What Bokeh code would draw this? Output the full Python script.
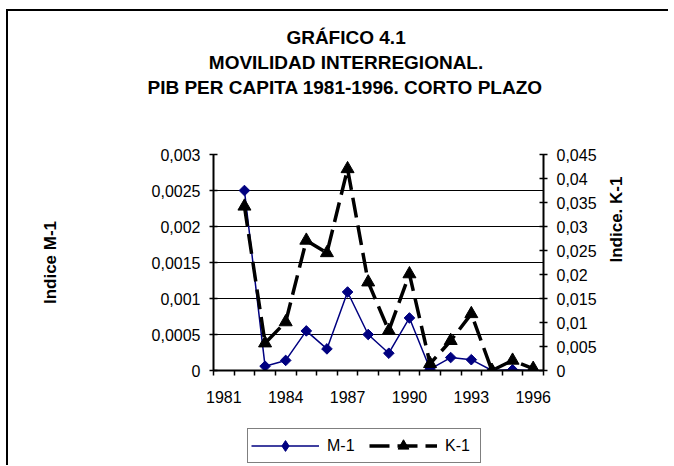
import math
from bokeh.plotting import figure
from bokeh.layouts import column
from bokeh.models import (Range1d, LinearAxis, FixedTicker, Title, Legend, LegendItem)
from bokeh.embed import file_html
from bokeh.resources import INLINE

# ---------------- data ----------------
years = [1982, 1983, 1984, 1985, 1986, 1987, 1988, 1989, 1990, 1991, 1992, 1993, 1994, 1995, 1996]
m1 = [0.0025, 0.00006, 0.00014, 0.00055, 0.0003, 0.00109, 0.0005, 0.00024, 0.00073,
      0.00002, 0.00018, 0.00015, 0.0, 0.00001, 0.0]
k1 = [0.0342, 0.0057, 0.0101, 0.0271, 0.0245, 0.042, 0.0184, 0.0083, 0.0201,
      0.0014, 0.0062, 0.0118, 0.0, 0.0021, 0.0004]

x_tick_years = [1981, 1984, 1987, 1990, 1993, 1996]
x_tick_labels = ["1981", "1984", "1987", "1990", "1993", "1996"]
category_edges = [1980.5, 1981.5, 1982.5, 1983.5, 1984.5, 1985.5, 1986.5, 1987.5, 1988.5,
                  1989.5, 1990.5, 1991.5, 1992.5, 1993.5, 1994.5, 1995.5, 1996.5]
left_ticks = [0, 0.0005, 0.001, 0.0015, 0.002, 0.0025, 0.003]
left_labels = ["0", "0,0005", "0,001", "0,0015", "0,002", "0,0025", "0,003"]
right_ticks = [0, 0.005, 0.01, 0.015, 0.02, 0.025, 0.03, 0.035, 0.04, 0.045]
right_labels = ["0", "0,005", "0,01", "0,015", "0,02", "0,025", "0,03", "0,035", "0,04", "0,045"]

title_lines = ["GRÁFICO 4.1", "MOVILIDAD INTERREGIONAL.", "PIB PER CAPITA 1981-1996. CORTO PLAZO"]
y_left_title = "Indice M-1"
y_right_title = "Indice. K-1"
series_names = ["M-1", "K-1"]

FONT = "Liberation Sans"
M_COLOR = "#000080"
K_COLOR = "black"
K_DASH = "20 8"

W, H = 660, 412
FL, FR, FT, FB = 205, 535, 143, 359  # frame edges on canvas

p = figure(width=W, height=H, output_backend="svg", toolbar_location=None,
           title_location=None,
           x_range=Range1d(1980.5, 1996.5), y_range=Range1d(0, 0.003),
           min_border_left=FL, min_border_right=W - FR,
           min_border_top=FT, min_border_bottom=H - FB,
           x_axis_location=None, y_axis_location=None)
p.outline_line_color = None
p.background_fill_color = "white"
p.border_fill_color = "white"
p.extra_y_ranges = {"k": Range1d(0, 0.045)}

# axes
xa = LinearAxis(ticker=FixedTicker(ticks=x_tick_years, minor_ticks=category_edges),
                major_label_overrides=dict(zip(x_tick_years, x_tick_labels)))
xa.axis_line_width = 2
xa.axis_line_color = "black"
xa.major_tick_line_color = None
xa.major_tick_in = 0
xa.major_tick_out = 0
xa.minor_tick_line_color = "black"
xa.minor_tick_line_width = 1.5
xa.minor_tick_in = 0
xa.minor_tick_out = 5
xa.major_label_standoff = 15
xa.major_label_text_font = FONT
xa.major_label_text_font_size = "16px"
xa.major_label_text_color = "black"
p.add_layout(xa, "below")

ya = LinearAxis(ticker=FixedTicker(ticks=left_ticks),
                major_label_overrides=dict(zip(left_ticks, left_labels)),
                axis_label=y_left_title, axis_label_standoff=89)
yb = LinearAxis(y_range_name="k", ticker=FixedTicker(ticks=right_ticks),
                major_label_overrides=dict(zip(right_ticks, right_labels)),
                axis_label=y_right_title, axis_label_standoff=17,
                axis_label_orientation=math.pi / 2)
for ax in (ya, yb):
    ax.axis_line_width = 2
    ax.axis_line_color = "black"
    ax.major_tick_line_color = "black"
    ax.major_tick_line_width = 1.5
    ax.major_tick_in = 4
    ax.major_tick_out = 4
    ax.minor_tick_line_color = None
    ax.major_label_standoff = 9
    ax.major_label_text_font = FONT
    ax.major_label_text_font_size = "16px"
    ax.major_label_text_color = "black"
    ax.axis_label_text_font = FONT
    ax.axis_label_text_font_style = "bold"
    ax.axis_label_text_font_size = "17px"
    ax.axis_label_text_color = "black"
p.add_layout(ya, "left")
p.add_layout(yb, "right")

p.xgrid.visible = False
p.ygrid.ticker = FixedTicker(ticks=left_ticks)
p.ygrid.grid_line_color = "black"
p.ygrid.grid_line_width = 1

# series
p.line(years, m1, line_color=M_COLOR, line_width=1.5)
p.scatter(years, m1, marker="square", angle=math.pi / 4, size=7.5,
          fill_color=M_COLOR, line_color=M_COLOR)
p.line(years, k1, y_range_name="k", line_color=K_COLOR, line_width=3.5, line_dash=K_DASH)
p.scatter(years, k1, y_range_name="k", marker="triangle", size=13,
          fill_color=K_COLOR, line_color=K_COLOR)

# titles: spacer nearest to the frame, then line 3, 2, 1
p.add_layout(Title(text=" ", standoff=31.75, text_font=FONT, text_font_style="bold",
                   text_font_size="19px"), "above")
title_offsets = [72.9, -4.7, -66.0]
for txt, off in reversed(list(zip(title_lines, title_offsets))):
    p.add_layout(Title(text=txt, align="left", offset=off, standoff=2,
                       vertical_align="middle",
                       text_font=FONT, text_font_style="bold", text_font_size="19px",
                       text_color="black"), "above")

# legend strip (separate small figure so the legend is not clipped).
# Its renderers use the same series but its ranges keep them out of view.
LH = 42
lg = figure(width=W, height=LH, output_backend="svg", toolbar_location=None,
            title_location=None, x_range=Range1d(0, 1), y_range=Range1d(0, 1),
            min_border=0, x_axis_location=None, y_axis_location=None)
lg.outline_line_color = None
lg.grid.visible = False
lg.border_fill_color = "white"
lm_line = lg.line(years, m1, line_color=M_COLOR, line_width=1.5)
lm_pts = lg.scatter(years, m1, marker="diamond", size=11,
                    fill_color=M_COLOR, line_color=M_COLOR)
lk_line = lg.line(years, k1, line_color=K_COLOR, line_width=3.5, line_dash=K_DASH)
lk_pts = lg.scatter(years, k1, marker="triangle", size=13, fill_color=K_COLOR,
                    line_color=K_COLOR)
legend = Legend(items=[LegendItem(label=series_names[0], renderers=[lm_line, lm_pts]),
                       LegendItem(label=series_names[1], renderers=[lk_line, lk_pts])],
                orientation="horizontal", location=(34, 2),
                glyph_width=68, glyph_height=27, label_standoff=8, spacing=10,
                label_width=32, padding=3, margin=0,
                label_text_font=FONT, label_text_font_size="16px",
                label_text_color="black",
                border_line_color="black", border_line_width=1.5,
                background_fill_color="white", background_fill_alpha=1)
lg.add_layout(legend, "center")

layout = column(p, lg, spacing=0)
layout.styles = {"border-left": "2px solid black", "border-top": "2px solid black",
                 "margin-left": "6px", "margin-top": "9px"}

open("out.html", "w").write(file_html(layout, INLINE))
